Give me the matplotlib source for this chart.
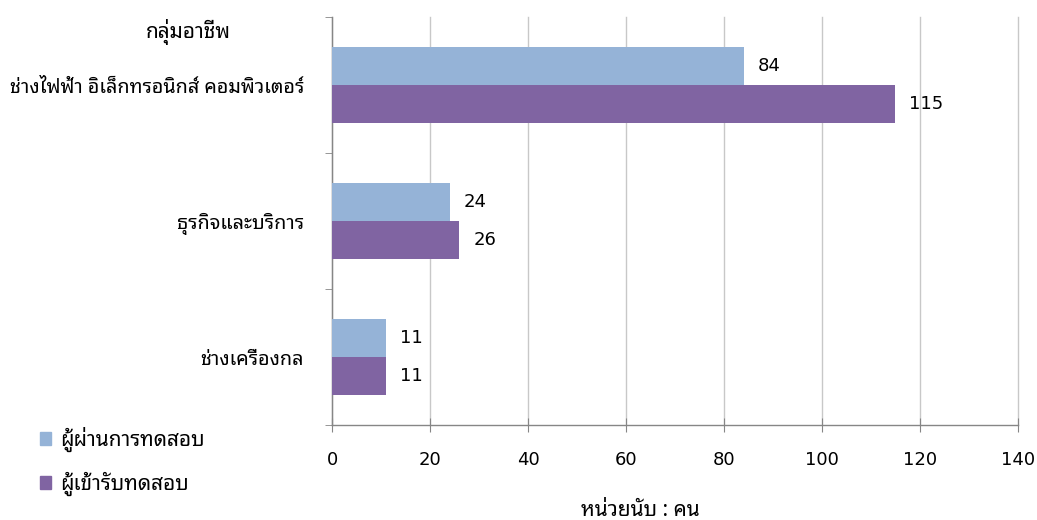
import numpy as np
import matplotlib
matplotlib.use("Agg")
import matplotlib.pyplot as plt
import matplotlib.patches as mpatches

plt.rcParams["font.family"] = ["Noto Sans Thai Looped", "DejaVu Sans"]

categories = ["ช่างไฟฟ้า อิเล็กทรอนิกส์ คอมพิวเตอร์", "ธุรกิจและบริการ", "ช่างเครื่องกล"]
passed = [84, 24, 11]
takers = [115, 26, 11]
series_names = ["ผู้ผ่านการทดสอบ", "ผู้เข้ารับทดสอบ"]
xticks = [0, 20, 40, 60, 80, 100, 120, 140]

LIGHT = "#95B3D7"
PURPLE = "#8064A2"
AXIS = "#868686"
GRID = "#C8C8C8"
FS = 13      # digits
FS_TH = 15   # thai text
FS_CAT = 14.2

fig = plt.figure(figsize=(10.37, 5.2), dpi=100)
ax = fig.add_axes([332 / 1037, 1 - 425 / 520, (1018 - 332) / 1037, (425 - 17) / 520])

y = np.arange(len(categories))
h = 0.283
b1 = ax.barh(y - h / 2, passed, height=h, color=LIGHT, zorder=3)
b2 = ax.barh(y + h / 2, takers, height=h, color=PURPLE, zorder=3)

for bars, vals in ((b1, passed), (b2, takers)):
    for bar, v in zip(bars, vals):
        ax.annotate(str(v), (bar.get_width(), bar.get_y() + bar.get_height() / 2),
                    xytext=(10, 0), textcoords="offset points", va="center",
                    ha="left", fontsize=FS, color="black",
                    family=["DejaVu Sans"])

ax.set_xlim(0, 140)
ax.set_ylim(len(categories) - 0.5, -0.5)
ax.set_xticks(xticks)
ax.set_xticklabels([str(t) for t in xticks], family=["DejaVu Sans"])
ax.set_yticks(y)
ax.set_yticklabels(categories)
ax.set_yticks(np.arange(-0.5, len(categories)), minor=True)

ax.grid(True, axis="x", color=GRID, linewidth=1, zorder=0)
for gl in ax.get_xgridlines():
    gl.set_clip_on(False)
for s in ("top", "right"):
    ax.spines[s].set_visible(False)
for s in ("left", "bottom"):
    ax.spines[s].set_color(AXIS)
    ax.spines[s].set_linewidth(1)

ax.tick_params(axis="x", direction="inout", length=10, color=AXIS, labelsize=FS, pad=14)
ax.tick_params(axis="y", which="major", length=0, labelsize=FS_CAT, pad=20)
ax.tick_params(axis="y", which="minor", length=5, color=AXIS)

fig.text(188 / 1037, 1 - 32 / 520, "กลุ่มอาชีพ", ha="center", va="center", fontsize=FS_TH)
fig.text(640 / 1037, 1 - 510 / 520, "หน่วยนับ : คน", ha="center", va="center", fontsize=FS_TH)

handles = [mpatches.Patch(color=LIGHT, label=series_names[0]),
           mpatches.Patch(color=PURPLE, label=series_names[1])]
fig.legend(handles=handles, loc="upper left", bbox_to_anchor=(21 / 1037, 1 - 408 / 520),
           frameon=False, fontsize=FS_TH, handlelength=0.55, handleheight=0.55,
           handletextpad=0.45, labelspacing=0.95)

fig.savefig("out.png", dpi=100)
